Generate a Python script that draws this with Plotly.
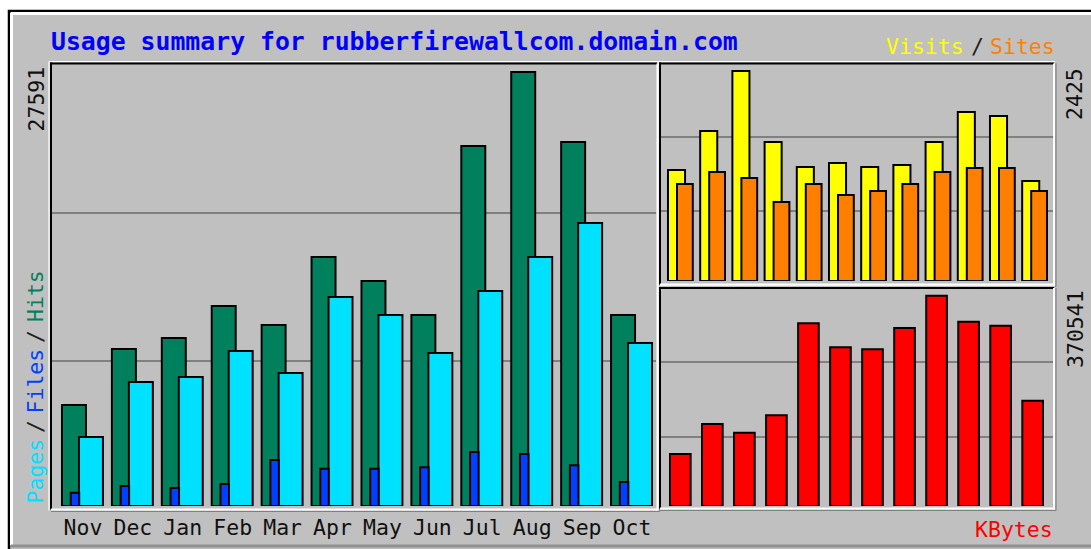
import plotly.graph_objects as go

W, H = 1091, 549

# ---------------- data ----------------
months = ["Nov", "Dec", "Jan", "Feb", "Mar", "Apr", "May", "Jun", "Jul", "Aug", "Sep", "Oct"]
hits = [6420, 9980, 10680, 12710, 11510, 15830, 14300, 12140, 22890, 27591, 23140, 12140]
pages = [4390, 7880, 8200, 9850, 8460, 13290, 12140, 9730, 13670, 15830, 17990, 10360]
files = [850, 1270, 1140, 1400, 2920, 2370, 2370, 2460, 3430, 3310, 2590, 1530]
visits = [1282, 1732, 2425, 1605, 1317, 1363, 1317, 1340, 1605, 1952, 1906, 1155]
sites = [1120, 1259, 1190, 912, 1120, 993, 1040, 1120, 1259, 1305, 1305, 1040]
kbytes = [91600, 144500, 129200, 159800, 321900, 279600, 276100, 313600, 370541, 324800, 317700, 185500]
title_text = "Usage summary for rubberfirewallcom.domain.com"

# ---------------- styles ----------------
GREY = "#C0C0C0"
DKGREY = "#808080"
C_HITS = "#00805C"
C_FILES = "#0040FF"
C_PAGES = "#00E0FF"
C_VISITS = "#FFFF00"
C_SITES = "#FF8000"
C_KB = "#FF0000"
MONO = "DejaVu Sans Mono, Liberation Mono, monospace"
SMALL = 21.5


def px(x):
    return x / W


def py(y):
    return 1 - y / H


idx = list(range(len(months)))
outline = dict(color="black", width=2)

fig = go.Figure()

# main panel: hits / pages / files
fig.add_trace(go.Bar(x=idx, y=hits, offset=0.0, width=0.48, marker=dict(color=C_HITS, line=outline),
                     xaxis="x", yaxis="y", name="Hits"))
fig.add_trace(go.Bar(x=idx, y=pages, offset=0.34, width=0.48, marker=dict(color=C_PAGES, line=outline),
                     xaxis="x", yaxis="y", name="Pages"))
fig.add_trace(go.Bar(x=idx, y=files, offset=0.175, width=0.17, marker=dict(color=C_FILES, line=outline),
                     xaxis="x", yaxis="y", name="Files"))

# top-right: visits / sites
fig.add_trace(go.Bar(x=idx, y=visits, offset=0.0, width=0.53, marker=dict(color=C_VISITS, line=outline),
                     xaxis="x2", yaxis="y2", name="Visits"))
fig.add_trace(go.Bar(x=idx, y=sites, offset=0.28, width=0.49, marker=dict(color=C_SITES, line=outline),
                     xaxis="x2", yaxis="y2", name="Sites"))

# bottom-right: kbytes
fig.add_trace(go.Bar(x=idx, y=kbytes, offset=0.0, width=0.645, marker=dict(color=C_KB, line=outline),
                     xaxis="x3", yaxis="y3", name="KBytes"))

m_hits = max(hits)
m_vis = max(visits)
m_kb = max(kbytes)

common_y = dict(showticklabels=False, zeroline=False, showline=False, ticks="",
                gridcolor=DKGREY, gridwidth=1.5, showgrid=True)
common_x = dict(showgrid=False, zeroline=False, showline=False)

fig.update_layout(
    width=W, height=H,
    margin=dict(l=0, r=0, t=0, b=0),
    paper_bgcolor="white",
    plot_bgcolor=GREY,
    barmode="overlay",
    showlegend=False,
    xaxis=dict(domain=[px(52), px(656)], range=[-0.2, 11.9], anchor="y",
               tickvals=[i + 0.42 for i in idx], ticktext=months,
               ticks="outside", ticklen=2, tickcolor="rgba(0,0,0,0)",
               tickfont=dict(family=MONO, size=SMALL, color="#101010"), **common_x),
    yaxis=dict(domain=[py(506), py(64)], range=[0, m_hits * 442 / 434], anchor="x",
               tickvals=[m_hits * 0.333, m_hits * 0.675], **common_y),
    xaxis2=dict(domain=[px(661), px(1053)], range=[-0.217, 11.957], anchor="y2",
                showticklabels=False, ticks="", **common_x),
    yaxis2=dict(domain=[py(281), py(64)], range=[0, m_vis * 217 / 210], anchor="x2",
                tickvals=[m_vis * 0.333, m_vis * 0.686], **common_y),
    xaxis3=dict(domain=[px(661), px(1053)], range=[-0.281, 11.958], anchor="y3",
                showticklabels=False, ticks="", **common_x),
    yaxis3=dict(domain=[py(506), py(289)], range=[0, m_kb * 217 / 210.3], anchor="x3",
                tickvals=[m_kb * 0.328, m_kb * 0.685], **common_y),
)

shapes = []


def pline(x0, y0, x1, y1, color, width, layer="above"):
    shapes.append(dict(type="line", xref="paper", yref="paper",
                       x0=px(x0), y0=py(y0), x1=px(x1), y1=py(y1),
                       line=dict(color=color, width=width), layer=layer))


# outer frame
shapes.append(dict(type="rect", xref="paper", yref="paper", x0=px(9), y0=py(11), x1=px(1100), y1=py(560),
                   fillcolor=GREY, line=dict(color="black", width=2.5), layer="below"))
pline(11, 13.5, 1091, 13.5, "white", 3, "below")
pline(11.5, 13, 11.5, 545, "white", 3, "below")
pline(11, 546, 1091, 546, "#909090", 3, "below")


def panel(x0, y0, x1, y1):
    pline(x0 - 2, y0 - 2, x1 + 1, y0 - 2, "white", 1.2)
    pline(x0 - 2, y0 - 2, x0 - 2, y1 + 1, "white", 1.2)
    pline(x0 - 1, y0, x1, y0, "black", 2)
    pline(x0, y0 - 1, x0, y1, "black", 2)
    pline(x1, y0, x1, y1 + 1, "white", 2)
    pline(x0, y1, x1 + 1, y1, "white", 2)
    pline(x0, y1 + 2, x1 + 2, y1 + 2, DKGREY, 1.2)
    pline(x1 + 2, y0, x1 + 2, y1 + 2, DKGREY, 1.2)


panel(51, 63.5, 657.5, 509.5)
panel(660, 63.5, 1054, 284.5)
panel(660, 288, 1054, 508.5)

fig.update_layout(shapes=shapes)

ann = []


def text(s, x, y, color, size=SMALL, xanchor="center", yanchor="middle", angle=0, bold=False):
    ann.append(dict(text=("<b>%s</b>" % s) if bold else s, xref="paper", yref="paper",
                    x=px(x), y=py(y), xanchor=xanchor, yanchor=yanchor, textangle=angle,
                    showarrow=False, borderpad=0,
                    font=dict(family=MONO, size=size, color=color)))


text(title_text, 50, 42, "#0000FF", size=24.8, xanchor="left", bold=True)
text("Visits", 965, 46, C_VISITS, xanchor="right")
text("/", 977, 46, "#202020")
text("Sites", 989, 46, C_SITES, xanchor="left")
text("KBytes", 1054, 529, C_KB, xanchor="right")

text("Pages", 35, 505, C_PAGES, yanchor="bottom", angle=-90)
text("/", 35, 427, "#202020", angle=-90)
text("Files", 35, 415, C_FILES, yanchor="bottom", angle=-90)
text("/", 35, 337, "#202020", angle=-90)
text("Hits", 35, 323, C_HITS, yanchor="bottom", angle=-90)

text(str(m_hits), 36, 66, "#101010", yanchor="top", angle=-90)
text(str(m_vis), 1074, 67, "#101010", yanchor="top", angle=-90)
text(str(m_kb), 1075, 289, "#101010", yanchor="top", angle=-90)

fig.update_layout(annotations=ann)

fig.write_html("out.html", config={"displayModeBar": False},
               post_script="document.body.style.margin='0';document.body.style.overflow='hidden';")
